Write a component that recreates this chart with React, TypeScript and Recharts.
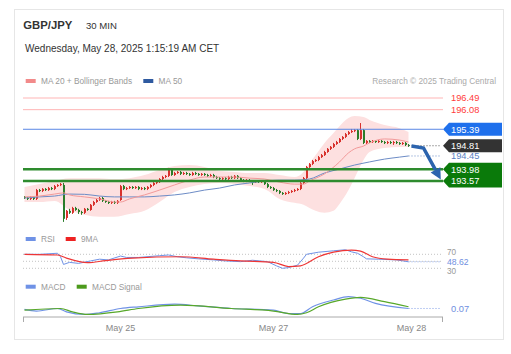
import React from 'react';
import { ComposedChart, Bar, Line, Area, XAxis, YAxis, ReferenceLine, ReferenceDot } from 'recharts';

const FONT = '"Liberation Sans", Arial, Helvetica, sans-serif';

// ---------- data ----------
// 30-min candles [open, high, low, close]
const candles: number[][] = [
  [193.01,193.04,192.94,192.97],[192.97,193.01,192.90,192.94],[192.94,193.04,192.90,193.01],[193.01,193.04,192.90,192.94],
  [192.94,193.29,192.90,193.25],[193.25,193.29,193.18,193.22],[193.22,193.32,193.18,193.29],[193.29,193.32,193.22,193.25],
  [193.25,193.36,193.22,193.32],[193.32,193.36,193.25,193.29],[193.29,193.43,193.25,193.39],[193.39,193.46,193.36,193.43],
  [193.43,193.50,193.39,193.46],[193.43,193.50,192.13,192.24],[192.27,192.55,192.20,192.52],[192.52,192.59,192.41,192.45],
  [192.45,192.66,192.41,192.62],[192.62,192.66,192.52,192.55],[192.55,192.59,192.41,192.48],[192.48,192.52,192.38,192.45],
  [192.45,192.62,192.41,192.59],[192.59,192.62,192.52,192.55],[192.55,192.76,192.52,192.73],[192.73,192.87,192.69,192.83],
  [192.83,192.94,192.80,192.90],[192.90,193.01,192.87,192.97],[192.97,193.01,192.83,192.87],[192.87,192.90,192.80,192.83],
  [192.83,192.87,192.76,192.80],[192.80,192.87,192.76,192.83],[192.83,192.87,192.76,192.80],[192.80,192.90,192.76,192.87],
  [192.90,193.43,192.87,193.39],[193.39,193.43,193.25,193.29],[193.29,193.36,193.25,193.32],[193.32,193.39,193.29,193.36],
  [193.36,193.39,193.29,193.32],[193.32,193.39,193.29,193.36],[193.36,193.39,193.25,193.29],[193.29,193.36,193.25,193.32],
  [193.32,193.36,193.25,193.29],[193.29,193.39,193.25,193.36],[193.36,193.46,193.32,193.43],[193.43,193.53,193.39,193.50],
  [193.50,193.57,193.46,193.53],[193.53,193.67,193.50,193.64],[193.64,193.75,193.60,193.71],[193.71,193.78,193.67,193.75],
  [193.75,194.03,193.71,193.96],[193.96,193.99,193.75,193.78],[193.78,193.89,193.75,193.85],[193.85,193.92,193.82,193.89],
  [193.89,193.92,193.78,193.82],[193.82,193.89,193.78,193.85],[193.85,193.89,193.78,193.82],[193.82,193.85,193.75,193.78],
  [193.78,193.89,193.75,193.85],[193.85,193.89,193.78,193.82],[193.82,193.85,193.75,193.78],[193.78,193.85,193.75,193.82],
  [193.82,193.85,193.75,193.78],[193.78,193.82,193.71,193.75],[193.75,193.82,193.71,193.78],[193.78,193.82,193.67,193.71],
  [193.71,193.75,193.64,193.67],[193.67,193.71,193.60,193.64],[193.64,193.71,193.60,193.67],[193.67,193.71,193.60,193.64],
  [193.64,193.75,193.60,193.71],[193.71,193.75,193.64,193.67],[193.67,193.78,193.64,193.75],[193.75,193.78,193.64,193.67],
  [193.67,193.71,193.57,193.60],[193.60,193.64,193.53,193.57],[193.57,193.64,193.53,193.60],[193.60,193.64,193.53,193.57],
  [193.57,193.60,193.43,193.53],[193.53,193.60,193.50,193.57],[193.57,193.60,193.50,193.53],[193.53,193.60,193.50,193.57],
  [193.57,193.60,193.43,193.46],[193.46,193.50,193.32,193.36],[193.36,193.39,193.29,193.32],[193.32,193.36,193.22,193.25],
  [193.25,193.29,193.18,193.22],[193.22,193.25,193.11,193.15],[193.15,193.18,193.08,193.11],[193.11,193.18,193.08,193.15],
  [193.15,193.22,193.11,193.18],[193.18,193.25,193.15,193.22],[193.22,193.29,193.18,193.25],[193.25,193.32,193.22,193.29],
  [193.29,193.53,193.25,193.50],[193.50,193.71,193.46,193.67],[193.67,194.10,193.64,194.06],[194.06,194.20,194.03,194.17],
  [194.17,194.31,194.13,194.27],[194.27,194.34,194.24,194.31],[194.31,194.45,194.27,194.41],[194.41,194.52,194.38,194.48],
  [194.48,194.63,194.45,194.59],[194.59,194.73,194.56,194.70],[194.70,194.80,194.66,194.77],[194.77,194.91,194.73,194.87],
  [194.87,194.98,194.84,194.94],[194.94,195.08,194.91,195.05],[195.05,195.15,195.01,195.12],[195.12,195.26,195.08,195.22],
  [195.22,195.33,195.19,195.29],[195.29,195.40,195.26,195.33],[195.33,195.40,195.29,195.36],[195.36,195.40,195.01,195.05],
  [195.05,195.61,195.01,195.36],[195.36,195.40,194.87,194.91],[194.91,195.01,194.87,194.98],[194.98,195.01,194.91,194.94],
  [194.94,195.01,194.91,194.98],[194.98,195.01,194.91,194.94],[194.94,195.01,194.91,194.98],[194.98,195.01,194.91,194.94],
  [194.94,194.98,194.87,194.91],[194.91,194.98,194.87,194.94],[194.94,194.98,194.87,194.91],[194.91,194.98,194.84,194.94],
  [194.94,194.98,194.87,194.91],[194.91,194.94,194.84,194.87],[194.87,194.94,194.84,194.91],[194.91,194.94,194.80,194.84],
  [194.84,194.87,194.77,194.81],
];
const SLOTS = 140; // candle slots incl. projection space

const bandIdx = [0,5,10,15,20,25,30,35,40,45,50,55,60,65,70,75,80,85,90,93,95,97,100,103,105,108,110,113,115,120,125,128];
const bbUpper = [193.36,193.46,193.57,193.67,193.67,193.67,193.64,193.67,193.78,193.96,194.10,194.13,194.06,193.92,193.89,193.85,193.85,193.78,193.71,193.89,194.20,194.48,194.91,195.26,195.50,195.79,195.86,195.82,195.72,195.54,195.43,195.29];
const bbLower = [192.83,192.83,192.87,192.55,192.38,192.31,192.31,192.41,192.52,192.83,193.18,193.36,193.46,193.50,193.46,193.39,193.29,192.94,192.80,192.73,192.62,192.52,192.45,192.52,192.76,193.25,193.67,194.31,194.59,194.73,194.77,194.77];

const ma20Idx = [0,5,10,13,15,20,25,30,32,35,40,45,50,55,60,65,70,75,80,85,90,93,95,100,105,108,110,113,115,120,125,128];
const ma20 = [193.01,193.04,193.11,193.15,193.08,193.01,192.94,192.83,192.83,192.94,193.08,193.25,193.43,193.60,193.71,193.71,193.71,193.67,193.64,193.53,193.46,193.46,193.57,193.82,194.24,194.56,194.70,194.80,194.91,195.05,195.01,194.94];

const ma50Idx = [0,5,10,15,20,25,30,35,40,45,50,55,60,65,70,75,80,85,90,95,100,105,110,115,120,125,128];
const ma50 = [192.97,193.01,193.04,193.11,193.10,193.04,193.01,193.01,193.01,193.04,193.08,193.15,193.25,193.32,193.43,193.50,193.57,193.60,193.60,193.64,193.85,193.99,194.13,194.24,194.34,194.41,194.45];

const arrowIdx = [129, 133, 137];
const arrowVals = [194.80, 194.73, 193.96];

const resistLevels = [196.49, 196.08];
const pivotLevel = 195.39;
const lastPrice = 194.81;
const ma50Last = 194.45;
const supportLevels = [193.98, 193.57];

const rsiIdx = [0,5,11,12,13,15,18,22,25,28,32,34,38,45,48,51,54,58,63,67,72,76,81,84,86,88,91,93,94,98,103,107,109,111,113,114,118,124,128];
const rsi = [70,70,73,63,41,47,44,51,56,54,65,61,61,66,68,63,60,57,54,51,49,53,49,37,30,32,39,59,70,76,80,83,77,73,63,57,56,54,48.62];
const rsiMaIdx = [0,11,14,21,27,36,52,63,72,83,88,92,98,103,109,112,116,121,128];
const rsiMa = [70,68,59,46,52,59,63,56,51,47,35,37,63,76,82,79,63,56,54];
const rsiLevels = [70, 50, 30];

const macdIdx = [0,4,11,14,20,25,32,38,50,58,69,83,88,92,96,103,108,112,117,128];
const macd = [0.06,0.04,0.07,0.03,0.00,0.02,0.07,0.09,0.12,0.10,0.07,0.05,0.01,0.01,0.09,0.17,0.21,0.19,0.13,0.07];
const sigIdx = [0,12,16,21,31,38,52,69,83,91,94,98,107,112,120,128];
const signal = [0.05,0.07,0.03,0.00,0.03,0.07,0.11,0.07,0.04,0.00,0.02,0.09,0.18,0.20,0.15,0.09];

const tickIdx = [32, 83, 129];
const tickLabels = ['May 25', 'May 27', 'May 28'];

// ---------- table ----------
const put = (rows: any[], key: string, idx: number[], vals: any[]) => idx.forEach((ix, k) => { rows[ix][key] = vals[k]; });
const rows: any[] = Array.from({ length: SLOTS }, (_, i) => {
  const c = candles[i];
  return c ? { i, o: c[0], h: c[1], l: c[2], c: c[3], hl: [c[2], c[1]] } : { i };
});
put(rows, 'bb', bandIdx, bandIdx.map((_, k) => [bbLower[k], bbUpper[k]]));
put(rows, 'ma20', ma20Idx, ma20);
put(rows, 'ma50', ma50Idx, ma50);
put(rows, 'arrow', arrowIdx, arrowVals);
put(rows, 'rsi', rsiIdx, rsi);
put(rows, 'rsiMa', rsiMaIdx, rsiMa);
put(rows, 'macd', macdIdx, macd);
put(rows, 'sig', sigIdx, signal);
const lastIdx = candles.length - 1;
const endIdx = SLOTS - 1;

// ---------- styles ----------
const W = 511;
const M_LEFT = 23;
const M_RIGHT = 68;
const TAG_X = W - M_RIGHT;
const RED = '#d8322d';
const GREEN = '#2a7d2a';

const CandleShape = (props: any) => {
  const { x, y, width, height, payload } = props;
  if (!payload || payload.o == null || x == null) return <g />;
  const { o, h, l, c } = payload;
  const top = Math.min(y, y + height);
  const hh = Math.abs(height);
  const py = (p: number) => top + ((h - p) / (h - l)) * hh;
  const cx = x + width / 2;
  const col = c >= o ? RED : GREEN;
  const yo = py(o), yc = py(c);
  const bt = Math.min(yo, yc);
  const bh = Math.max(1, Math.abs(yo - yc));
  return (
    <g>
      <line x1={cx} x2={cx} y1={top} y2={top + hh} stroke={col} strokeWidth={1} />
      <rect x={cx - 0.5} y={bt} width={2} height={bh} fill={col} />
    </g>
  );
};

const PriceTag = (props: any) => {
  const { viewBox, text, bg, color, boxed, x0 = TAG_X, tx = 8, white, dy = 0, fs = 9.3 } = props;
  if (!viewBox) return null;
  const y = viewBox.y + (viewBox.height || 0) / 2 + dy;
  if (boxed) {
    return (
      <g>
        <polygon points={`${x0},${y} ${x0 + 6},${y - 6.5} ${W - 9},${y - 6.5} ${W - 9},${y + 6.5} ${x0 + 6},${y + 6.5}`} fill={bg} />
        <text x={x0 + tx} y={y + 3.3} fontSize={fs} fill="#fff">{text}</text>
      </g>
    );
  }
  return (
    <g>
      {white && <rect x={x0 + tx - 1} y={y - 4.2} width={26} height={8.4} fill="#fff" />}
      <text x={x0 + tx} y={y + fs * 0.36} fontSize={fs} fill={color}>{text}</text>
    </g>
  );
};

const ArrowHead = (props: any) => {
  const { cx, cy } = props;
  if (cx == null || cy == null) return <g />;
  const ux = 0.479, uy = 0.878, nx = -0.878, ny = 0.479;
  const tip = `${cx + ux * 11},${cy + uy * 11}`;
  const a = `${cx + nx * 5.5},${cy + ny * 5.5}`;
  const b = `${cx - nx * 5.5},${cy - ny * 5.5}`;
  return <polygon points={`${tip} ${a} ${b}`} fill="#2c64ae" />;
};

const MainChart = () => (
  <ComposedChart width={W} height={240} data={rows} margin={{ top: 89.2, bottom: 14.4, left: M_LEFT, right: M_RIGHT }} barCategoryGap={0}>
    <XAxis dataKey="i" hide />
    <YAxis hide domain={[192.0, 196.8]} allowDataOverflow />
    <Area dataKey="bb" type="monotone" stroke="none" fill="#fde0e0" fillOpacity={1} connectNulls isAnimationActive={false} />
    <Line dataKey="ma50" type="monotone" stroke="#6d8cc6" strokeWidth={1} dot={false} connectNulls isAnimationActive={false} />
    <Line dataKey="ma20" type="monotone" stroke="#f29a9a" strokeWidth={1} dot={false} connectNulls isAnimationActive={false} />
    <Bar dataKey="hl" shape={<CandleShape />} isAnimationActive={false} />
    {resistLevels.map((v) => (
      <ReferenceLine key={v} y={v} stroke="#ffb5b5" strokeWidth={1} label={<PriceTag text={v.toFixed(2)} color="#ff3b3b" />} />
    ))}
    <ReferenceLine y={pivotLevel} stroke="#5a88e6" strokeWidth={1} label={<PriceTag text={pivotLevel.toFixed(2)} boxed bg="#1f70ec" />} />
    <ReferenceLine segment={[{ x: lastIdx, y: lastPrice }, { x: endIdx, y: lastPrice }]} stroke="#555" strokeDasharray="1 2" label={<PriceTag text={lastPrice.toFixed(2)} boxed bg="#333333" />} />
    <ReferenceLine segment={[{ x: lastIdx, y: ma50Last }, { x: endIdx, y: ma50Last }]} stroke="#6d8cc6" strokeDasharray="1 2" label={<PriceTag text={ma50Last.toFixed(2)} color="#5a7fc2" />} />
    {supportLevels.map((v) => (
      <ReferenceLine key={v} y={v} stroke="#2e8b2e" strokeWidth={2.5} label={<PriceTag text={v.toFixed(2)} boxed bg="#0a7a0a" />} />
    ))}
    <Line dataKey="arrow" type="linear" stroke="#2c64ae" strokeWidth={3.5} dot={false} connectNulls isAnimationActive={false} />
    <ReferenceDot x={arrowIdx[arrowIdx.length - 1]} y={arrowVals[arrowVals.length - 1]} shape={<ArrowHead />} />
  </ComposedChart>
);

const RsiChart = () => (
  <ComposedChart width={W} height={40} data={rows} margin={{ top: 7.3, bottom: 4.7, left: M_LEFT, right: M_RIGHT }}>
    <XAxis dataKey="i" hide scale="band" />
    <YAxis hide domain={[10, 90]} allowDataOverflow />
    {rsiLevels.map((v) => (
      <ReferenceLine key={v} y={v} stroke="#c4c4c4" strokeDasharray="1 2"
        label={v === 50 ? undefined : <PriceTag text={String(v)} color="#999" tx={4} fs={8.2} dy={v === 70 ? -1.8 : 3} />} />
    ))}
    <ReferenceLine segment={[{ x: lastIdx, y: rsi[rsi.length - 1] }, { x: endIdx, y: rsi[rsi.length - 1] }]} stroke="#7f9de6" strokeDasharray="1 2"
      label={<PriceTag text={rsi[rsi.length - 1].toFixed(2)} color="#6f8fe0" tx={4} fs={8.6} white />} />
    <Line dataKey="rsi" type="linear" stroke="#6f92e6" strokeWidth={1} dot={false} connectNulls isAnimationActive={false} />
    <Line dataKey="rsiMa" type="monotone" stroke="#ee3636" strokeWidth={1.2} dot={false} connectNulls isAnimationActive={false} />
  </ComposedChart>
);

const MacdChart = () => (
  <ComposedChart width={W} height={60} data={rows} margin={{ top: 14, bottom: 3, left: M_LEFT, right: M_RIGHT }}>
    <XAxis dataKey="i" scale="band" height={20} ticks={tickIdx} interval={0} tickLine={false}
      axisLine={{ stroke: '#aaa' }} tick={{ fontSize: 9, fill: '#888' }}
      tickFormatter={(v: any) => tickLabels[tickIdx.indexOf(Number(v))] ?? ''} />
    <YAxis hide domain={[-0.03, 0.24]} allowDataOverflow />
    <ReferenceLine segment={[{ x: lastIdx, y: macd[macd.length - 1] }, { x: endIdx, y: macd[macd.length - 1] }]} stroke="#7f9de6" strokeDasharray="1 2"
      label={<PriceTag text={macd[macd.length - 1].toFixed(2)} color="#6f8fe0" />} />
    <Line dataKey="macd" type="monotone" stroke="#6f92e6" strokeWidth={1.2} dot={false} connectNulls isAnimationActive={false} />
    <Line dataKey="sig" type="monotone" stroke="#58a82a" strokeWidth={1.2} dot={false} connectNulls isAnimationActive={false} />
  </ComposedChart>
);

const legendMain = [
  { x: 25.7, label: 'MA 20 + Bollinger Bands', color: '#f28a8a' },
  { x: 143.3, label: 'MA 50', color: '#2f5aa0' },
];
const legendRsi = [
  { x: 25.7, label: 'RSI', color: '#6f92e6' },
  { x: 65.7, label: '9MA', color: '#ee2222' },
];
const legendMacd = [
  { x: 25.7, label: 'MACD', color: '#6f92e6' },
  { x: 76.7, label: 'MACD Signal', color: '#4c9a1c' },
];

const LegendRow = ({ items, y }: { items: any[]; y: number }) => (
  <g>
    {items.map((it) => (
      <g key={it.label}>
        <rect x={it.x} y={y - 2} width={10} height={4} fill={it.color} />
        <text x={it.x + 15.3} y={y + 3} fontSize={8.3} fill="#999">{it.label}</text>
      </g>
    ))}
  </g>
);

export default function App() {
  return (
    <div style={{ position: 'absolute', left: 0, top: 0, width: W, height: 354, background: '#fff', fontFamily: FONT, overflow: 'hidden' }}>
      <div style={{ position: 'absolute', left: 14, top: 9, width: 490, height: 331, border: '1px solid #e6e6e6', boxSizing: 'border-box' }} />
      <svg style={{ position: 'absolute', left: 0, top: 0 }} width={W} height={354}>
        <text x={23.3} y={28.7} fontSize={11.3} fontWeight="bold" fill="#333">GBP/JPY</text>
        <text x={86} y={28.5} fontSize={9.6} fill="#333">30 MIN</text>
        <text x={25} y={51.5} fontSize={10} fill="#333">Wednesday, May 28, 2025 1:15:19 AM CET</text>
        <LegendRow items={legendMain} y={81} />
        <text x={496} y={84} textAnchor="end" fontSize={8.3} fill="#aaa">Research © 2025 Trading Central</text>
        <LegendRow items={legendRsi} y={239} />
        <LegendRow items={legendMacd} y={286.7} />
      </svg>
      <div style={{ position: 'absolute', left: 0, top: 0 }}><MainChart /></div>
      <div style={{ position: 'absolute', left: 0, top: 240 }}><RsiChart /></div>
      <div style={{ position: 'absolute', left: 0, top: 280 }}><MacdChart /></div>
      <div style={{ position: 'absolute', left: 23, top: 317, width: 1, height: 5, background: '#aaa' }} />
      <div style={{ position: 'absolute', left: 442, top: 317, width: 1, height: 5, background: '#aaa' }} />
    </div>
  );
}
